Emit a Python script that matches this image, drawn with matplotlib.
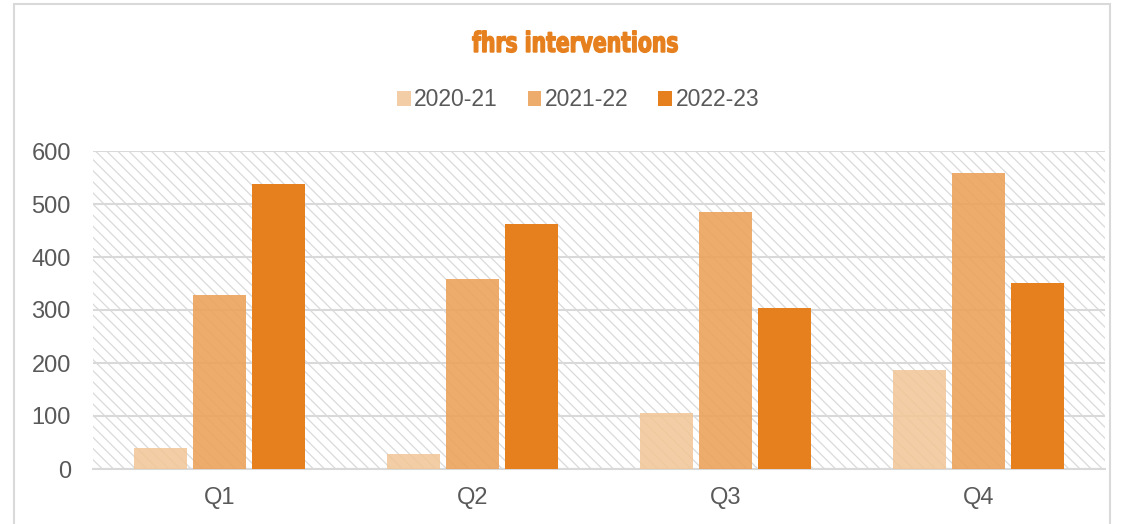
import matplotlib
matplotlib.use('Agg')
import matplotlib.pyplot as plt
import numpy as np
from matplotlib.patches import Rectangle, PathPatch
from matplotlib.textpath import TextPath
from matplotlib.font_manager import FontProperties
from matplotlib.transforms import Affine2D

# data
quarters=['Q1','Q2','Q3','Q4']
series_names=['2020-21','2021-22','2022-23']
v2020=[40,28,106,187]
v2021=[328,358,485,558]
v2022=[538,462,304,351]
yticks=[0,100,200,300,400,500,600]

colors=['#F2C595','#ECA35C','#E6801E']
alphas=[0.85,0.9,1.0]

plt.rcParams['font.family']=['Liberation Sans','DejaVu Sans']
plt.rcParams['hatch.linewidth']=0.9
plt.rcParams['hatch.color']='#DADADA'

W,H=1139,524
fig=plt.figure(figsize=(W/100,H/100),dpi=100)
# outer chart border
fig.patches.append(Rectangle((14/W,-0.1),(1110-14)/W,1.1-4/H,transform=fig.transFigure,
                             fill=False,edgecolor='#D9D9D9',linewidth=1.5))
ax=fig.add_axes([93/W,55/H,(1105-93)/W,(469-151)/H])

# hatched plot area background
ax.add_patch(Rectangle((0,0),1,1,transform=ax.transAxes,facecolor='white',edgecolor='#DADADA',
                       hatch='\\\\\\',linewidth=0,zorder=0))

x=np.arange(len(quarters))
w=0.21
gap=0.024
offsets=[-(w+gap),0,(w+gap)]
for vals,name,c,a,off in zip([v2020,v2021,v2022],series_names,colors,alphas,offsets):
    ax.bar(x+off,vals,width=w,color=c,alpha=a,label=name,zorder=3)

ax.set_xlim(-0.5,3.5)
ax.set_ylim(0,600)
ax.set_yticks(yticks)
ax.set_xticks(x)
ax.set_xticklabels(quarters)
ax.yaxis.grid(True,color='#D9D9D9',linewidth=1.5,zorder=1)
ax.set_axisbelow(True)
for s in ['top','right','left']:
    ax.spines[s].set_visible(False)
ax.spines['bottom'].set_color('#D9D9D9')
ax.spines['bottom'].set_linewidth(1.5)
ax.tick_params(axis='both',length=0,labelsize=17,labelcolor='#595959')
ax.tick_params(axis='x',pad=13)
ax.tick_params(axis='y',pad=16)

# condensed heavy title: squeeze a bold text path horizontally
tp=TextPath((0,0),'fhrs interventions',size=28,prop=FontProperties(family='DejaVu Sans',weight='bold'))
ext=tp.get_extents()
sx=205/ext.width
tr=Affine2D().translate(-ext.x0-ext.width/2,0).scale(sx,1.0).translate(575,H-52)
fig.patches.append(PathPatch(tp,transform=tr,facecolor='#E6801E',edgecolor='#E6801E',linewidth=1.0))

fig.legend(loc='center',bbox_to_anchor=(578/W,1-100/H),ncol=3,frameon=False,fontsize=16.5,
           handlelength=0.6,handleheight=0.6,handletextpad=0.15,columnspacing=1.3,labelcolor='#595959')

plt.savefig('out.png',dpi=100)
